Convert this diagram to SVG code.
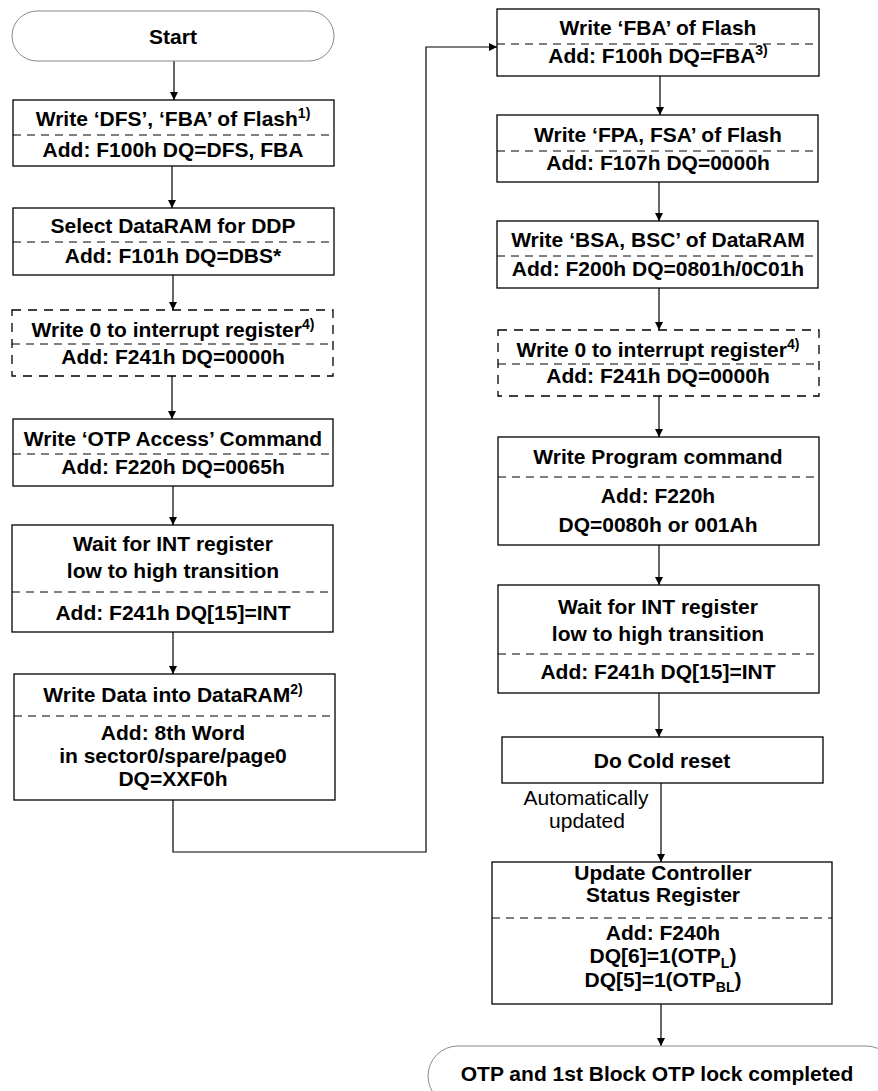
<svg xmlns="http://www.w3.org/2000/svg" width="878" height="1091" viewBox="0 0 878 1091">
<defs>
<style>
.box{fill:#fff;stroke:#000;stroke-width:1.3}
.dbox{fill:#fff;stroke:#000;stroke-width:1.3;stroke-dasharray:9 7}
.sep{stroke:#000;stroke-width:1;stroke-dasharray:8 6;fill:none}
.term{fill:#fff;stroke:#8a8a8a;stroke-width:1}
.t{font-family:"Liberation Sans",Arial,sans-serif;font-weight:bold;font-size:21px;text-anchor:middle;fill:#000}
.n{font-family:"Liberation Sans",Arial,sans-serif;font-size:21px;text-anchor:middle;fill:#000}
.c{stroke:#000;stroke-width:1.2;fill:none;marker-end:url(#ah)}
</style>
<marker id="ah" markerUnits="userSpaceOnUse" markerWidth="8" markerHeight="10" refX="8" refY="4" orient="auto">
<path d="M0,0 L8,4 L0,8 Z" fill="#000"/>
</marker>
</defs>

<g id="connectors">
<line class="c" x1="174" y1="61" x2="174" y2="100"/>
<line class="c" x1="172" y1="166" x2="172" y2="208"/>
<line class="c" x1="173" y1="275" x2="173" y2="310"/>
<line class="c" x1="172" y1="376" x2="172" y2="419"/>
<line class="c" x1="173" y1="486" x2="173" y2="525"/>
<line class="c" x1="173" y1="632" x2="173" y2="674"/>
<polyline class="c" points="173,800 173,852 426,852 426,47 497,47"/>
<line class="c" x1="660" y1="76" x2="660" y2="115"/>
<line class="c" x1="659" y1="182" x2="659" y2="221"/>
<line class="c" x1="659" y1="288" x2="659" y2="330"/>
<line class="c" x1="659" y1="396" x2="659" y2="437"/>
<line class="c" x1="659" y1="545" x2="659" y2="585"/>
<line class="c" x1="659" y1="693" x2="659" y2="737"/>
<line class="c" x1="661" y1="783" x2="661" y2="862"/>
<line class="c" x1="661" y1="1004" x2="661" y2="1046"/>
<text class="n" x="586" y="805">Automatically</text>
<text class="n" x="587" y="828">updated</text>
</g>

<g id="start">
<rect class="term" x="12" y="11" width="322" height="50" rx="25"/>
<text class="t" x="173" y="44">Start</text>
</g>

<g id="b1">
<rect class="box" x="13" y="100" width="321" height="66"/>
<line class="sep" x1="13" y1="135" x2="334" y2="135"/>
<text class="t" x="173" y="126">Write ‘DFS’, ‘FBA’ of Flash<tspan font-size="14" dy="-8">1)</tspan></text>
<text class="t" x="173" y="157">Add: F100h DQ=DFS, FBA</text>
</g>

<g id="b2">
<rect class="box" x="13" y="208" width="321" height="67"/>
<line class="sep" x1="13" y1="242" x2="334" y2="242"/>
<text class="t" x="173" y="233">Select DataRAM for DDP</text>
<text class="t" x="173" y="263">Add: F101h DQ=DBS*</text>
</g>

<g id="b3">
<rect class="dbox" x="12" y="310" width="321" height="66"/>
<line class="sep" x1="12" y1="344" x2="333" y2="344"/>
<text class="t" x="173" y="337">Write 0 to interrupt register<tspan font-size="14" dy="-8">4)</tspan></text>
<text class="t" x="173" y="364">Add: F241h DQ=0000h</text>
</g>

<g id="b4">
<rect class="box" x="13" y="419" width="320" height="67"/>
<line class="sep" x1="13" y1="454" x2="333" y2="454"/>
<text class="t" x="173" y="446">Write ‘OTP Access’ Command</text>
<text class="t" x="173" y="474">Add: F220h DQ=0065h</text>
</g>

<g id="b5">
<rect class="box" x="12" y="525" width="321" height="107"/>
<line class="sep" x1="12" y1="592" x2="333" y2="592"/>
<text class="t" x="173" y="551">Wait for INT register</text>
<text class="t" x="173" y="578">low to high transition</text>
<text class="t" x="173" y="620">Add: F241h DQ[15]=INT</text>
</g>

<g id="b6">
<rect class="box" x="14" y="674" width="321" height="126"/>
<line class="sep" x1="14" y1="716" x2="335" y2="716"/>
<text class="t" x="173" y="702">Write Data into DataRAM<tspan font-size="14" dy="-8">2)</tspan></text>
<text class="t" x="173" y="740">Add: 8th Word</text>
<text class="t" x="173" y="763">in sector0/spare/page0</text>
<text class="t" x="173" y="786">DQ=XXF0h</text>
</g>

<g id="r1">
<rect class="box" x="497" y="9" width="322" height="67"/>
<line class="sep" x1="497" y1="44" x2="819" y2="44"/>
<text class="t" x="658" y="35">Write ‘FBA’ of Flash</text>
<text class="t" x="658" y="63">Add: F100h DQ=FBA<tspan font-size="14" dy="-8">3)</tspan></text>
</g>

<g id="r2">
<rect class="box" x="497" y="115" width="321" height="67"/>
<line class="sep" x1="497" y1="151" x2="818" y2="151"/>
<text class="t" x="658" y="142">Write ‘FPA, FSA’ of Flash</text>
<text class="t" x="658" y="170">Add: F107h DQ=0000h</text>
</g>

<g id="r3">
<rect class="box" x="497" y="221" width="321" height="67"/>
<line class="sep" x1="497" y1="256" x2="818" y2="256"/>
<text class="t" x="658" y="247">Write ‘BSA, BSC’ of DataRAM</text>
<text class="t" x="658" y="276">Add: F200h DQ=0801h/0C01h</text>
</g>

<g id="r4">
<rect class="dbox" x="498" y="330" width="321" height="66"/>
<line class="sep" x1="498" y1="364" x2="819" y2="364"/>
<text class="t" x="658" y="357">Write 0 to interrupt register<tspan font-size="14" dy="-8">4)</tspan></text>
<text class="t" x="658" y="383">Add: F241h DQ=0000h</text>
</g>

<g id="r5">
<rect class="box" x="498" y="437" width="321" height="108"/>
<line class="sep" x1="498" y1="477" x2="819" y2="477"/>
<text class="t" x="658" y="464">Write Program command</text>
<text class="t" x="658" y="503">Add: F220h</text>
<text class="t" x="658" y="532">DQ=0080h or 001Ah</text>
</g>

<g id="r6">
<rect class="box" x="498" y="585" width="321" height="108"/>
<line class="sep" x1="498" y1="654" x2="819" y2="654"/>
<text class="t" x="658" y="614">Wait for INT register</text>
<text class="t" x="658" y="641">low to high transition</text>
<text class="t" x="658" y="679">Add: F241h DQ[15]=INT</text>
</g>

<g id="r7">
<rect class="box" x="502" y="737" width="321" height="46"/>
<text class="t" x="662" y="768">Do Cold reset</text>
</g>

<g id="r8">
<rect class="box" x="492" y="862" width="340" height="142"/>
<line class="sep" x1="492" y1="918" x2="832" y2="918"/>
<text class="t" x="663" y="880">Update Controller</text>
<text class="t" x="663" y="902">Status Register</text>
<text class="t" x="663" y="940">Add: F240h</text>
<text class="t" x="663" y="963">DQ[6]=1(OTP<tspan font-size="14" dy="5">L</tspan><tspan dy="-5">)</tspan></text>
<text class="t" x="663" y="987">DQ[5]=1(OTP<tspan font-size="14" dy="5">BL</tspan><tspan dy="-5">)</tspan></text>
</g>

<g id="end">
<rect class="term" x="428" y="1046" width="468" height="60" rx="30"/>
<text class="t" x="657" y="1081">OTP and 1st Block OTP lock completed</text>
</g>
</svg>
